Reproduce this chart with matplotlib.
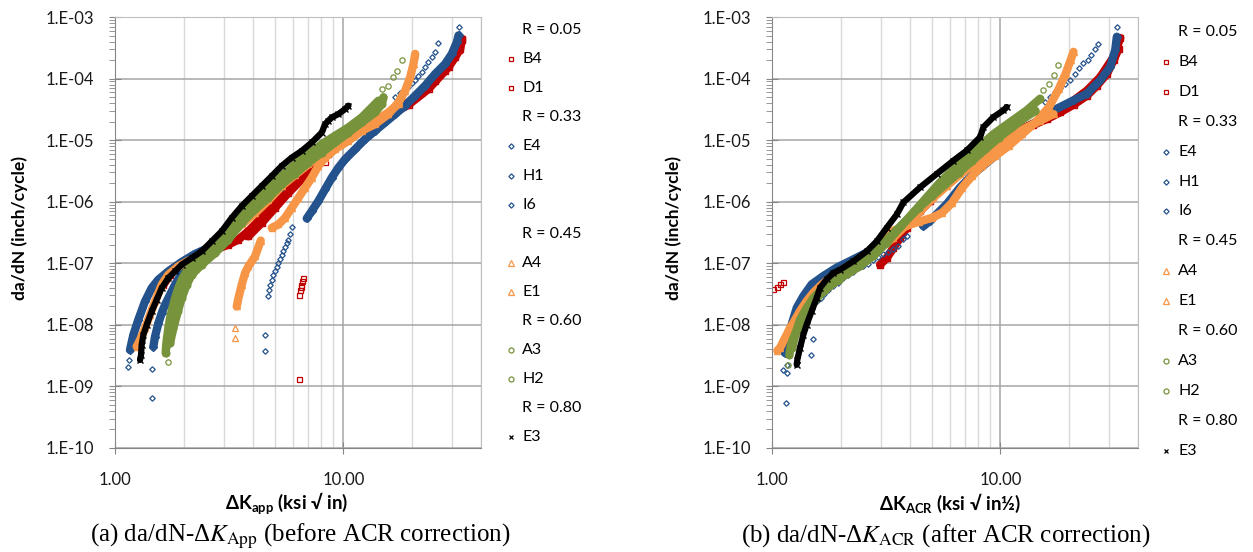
import numpy as np
import matplotlib
matplotlib.use('Agg')
import matplotlib.pyplot as plt
from matplotlib.lines import Line2D
from matplotlib.ticker import FixedLocator, FuncFormatter, LogLocator

nan = np.nan
gap = [nan, nan]

# ---- data: [dK (ksi sqrt(in)), da/dN (inch/cycle)], gap = break in a trace ----
series = ['B4', 'D1', 'E4', 'H1', 'I6', 'A4', 'E1', 'A3', 'H2', 'E3']
ratio_groups = [('R = 0.05', ['B4', 'D1']),
                ('R = 0.33', ['E4', 'H1', 'I6']),
                ('R = 0.45', ['A4', 'E1']),
                ('R = 0.60', ['A3', 'H2']),
                ('R = 0.80', ['E3'])]

# (a) before ACR correction
a_B4 = [[1.628, 4.49e-8], [1.741, 6.53e-8], [1.894, 8.93e-8], [2.095, 1.15e-7], [2.397, 1.38e-7],
        [2.742, 1.67e-7], [3.135, 2.01e-7], [3.469, 2.43e-7], [3.837, 3.32e-7], [4.244, 4.84e-7],
        [4.695, 7.98e-7], [5.193, 1.16e-6], [5.744, 1.92e-6], [6.353, 2.79e-6], [7.026, 4.06e-6],
        [7.771, 5.91e-6], [8.596, 7.59e-6], [9.833, 1.04e-5], [11.25, 1.42e-5], [12.87, 1.82e-5],
        [14.72, 2.34e-5], [16.84, 3.01e-5], [19.27, 4.11e-5], [22.04, 5.99e-5], [25.21, 9.27e-5],
        [28.84, 1.53e-4], [30.84, 2.23e-4], [32.43, 3.05e-4], [32.98, 4.17e-4]]
a_D1 = [[3.837, 2.75e-7], [4.389, 4.55e-7], [5.022, 7.98e-7], [5.744, 1.40e-6], [6.570, 2.31e-6],
        [7.515, 3.82e-6], [8.596, 5.91e-6], [9.833, 8.83e-6], gap,
        [10.52, 1.18e-5], [12.87, 1.71e-5], [15.74, 2.49e-5], [19.27, 3.77e-5], [23.57, 6.79e-5],
        [27.88, 1.35e-4], [31.89, 2.86e-4], [32.98, 4.44e-4]]
a_D1_dots = [[6.417, 1.30e-9], [6.417, 3.08e-8], [6.460, 3.72e-8], [6.500, 4.10e-8], [6.526, 4.49e-8],
             [6.614, 5.09e-8], [6.681, 5.77e-8], [8.312, 4.49e-6]]
a_E4 = [[1.163, 3.91e-9], [1.203, 6.87e-9], [1.265, 1.21e-8], [1.353, 2.40e-8], [1.447, 3.96e-8],
        [1.548, 5.42e-8], [1.712, 7.41e-8], [1.959, 1.05e-7], [2.241, 1.42e-7], [2.564, 1.78e-7]]
a_E4_dots = [[1.144, 2.09e-9], [1.152, 2.69e-9], [2.742, 2.01e-7], [2.933, 2.28e-7], [3.135, 2.69e-7],
             [3.354, 3.32e-7], [3.587, 4.27e-7], [3.837, 5.48e-7], [4.104, 7.04e-7], [4.389, 9.05e-7],
             [4.695, 1.09e-6], [5.022, 1.35e-6], [5.193, 1.49e-6], [5.370, 1.65e-6]]
a_H1 = [[1.472, 4.44e-9], [1.497, 6.45e-9], [1.548, 1.06e-8], [1.601, 1.55e-8], [1.656, 2.12e-8],
        [1.741, 3.08e-8], [1.832, 4.49e-8], [1.926, 6.14e-8], [2.026, 8.39e-8]]
a_H1_dots = [[1.457, 6.37e-10], [1.457, 1.92e-9], [16.84, 4.96e-5], [17.71, 5.77e-5], [18.63, 6.46e-5],
             [19.20, 7.23e-5], [19.98, 8.39e-5], [20.61, 9.39e-5], [21.23, 1.09e-4], [22.11, 1.27e-4],
             [22.80, 1.53e-4], [23.49, 1.85e-4], [24.45, 2.23e-4], [25.21, 2.69e-4], [25.98, 3.77e-4]]
a_I6 = [[6.909, 5.35e-7], [7.266, 7.04e-7], [7.771, 1.03e-6], [8.312, 1.59e-6], [8.890, 2.46e-6],
        [9.508, 3.58e-6], [10.17, 4.90e-6], [11.25, 7.13e-6], [12.44, 1.04e-5], [13.76, 1.42e-5],
        [15.22, 1.94e-5], [16.84, 2.65e-5], [18.63, 3.63e-5], [20.61, 5.28e-5], [22.80, 7.69e-5],
        [25.21, 1.19e-4], [27.88, 1.73e-4], [29.82, 2.52e-4], [31.36, 3.91e-4], [31.89, 5.02e-4]]
a_I6_dots = [[4.540, 3.77e-9], [4.540, 6.87e-9], [4.663, 2.97e-8], [4.726, 3.72e-8], [4.788, 4.49e-8],
             [4.856, 5.42e-8], [4.936, 6.53e-8], [5.022, 7.41e-8], [5.105, 8.61e-8], [5.193, 1.01e-7],
             [5.279, 1.19e-7], [5.370, 1.35e-7], [5.461, 1.57e-7], [5.554, 1.82e-7], [5.648, 2.12e-7],
             [5.744, 2.43e-7], [5.861, 3.01e-7], [5.980, 3.86e-7], [31.89, 6.87e-4]]
a_A4 = [[1.244, 4.44e-9], [1.287, 5.69e-9], [1.353, 8.83e-9], [1.423, 1.46e-8], [1.497, 2.40e-8],
        [1.601, 4.49e-8], [1.712, 6.53e-8], [1.894, 8.93e-8], [2.095, 1.10e-7], [2.397, 1.35e-7],
        [2.742, 1.78e-7], [3.135, 2.75e-7], [3.587, 4.27e-7], [4.104, 6.50e-7], [4.695, 1.05e-6],
        [5.370, 1.80e-6], [6.143, 2.72e-6], [7.026, 4.06e-6], [8.037, 5.91e-6], [9.194, 8.09e-6],
        [10.52, 1.10e-5], [12.03, 1.51e-5], [13.76, 2.07e-5], [15.74, 2.83e-5], [17.42, 3.86e-5]]
a_E1 = [[3.411, 1.99e-8], [3.469, 2.72e-8], [3.587, 4.49e-8], [3.710, 6.95e-8], [3.837, 8.93e-8],
        [4.104, 1.30e-7], [4.345, 2.34e-7], gap,
        [4.856, 3.77e-7], [5.193, 4.27e-7], [5.554, 5.48e-7], [5.940, 7.98e-7], [6.353, 1.16e-6],
        [6.794, 1.69e-6], [7.266, 2.46e-6], [7.771, 3.82e-6], [8.312, 5.21e-6], [9.194, 7.13e-6],
        [10.52, 9.76e-6], [12.03, 1.42e-5], [13.76, 1.82e-5], [15.74, 2.65e-5], [17.42, 4.11e-5],
        [18.63, 6.37e-5], [19.59, 1.05e-4], [20.26, 1.73e-4], [20.61, 2.52e-4]]
a_E1_dots = [[3.354, 6.21e-9], [3.354, 8.83e-9]]
a_A3 = [[1.741, 5.03e-9], [1.801, 8.83e-9], [1.883, 1.65e-8], [1.959, 2.72e-8], [2.060, 4.49e-8],
        [2.167, 6.53e-8], [2.397, 9.51e-8], [2.742, 1.47e-7], [3.135, 2.43e-7], [3.587, 4.55e-7],
        [4.104, 7.50e-7], [4.695, 1.16e-6], [5.370, 1.92e-6], [6.143, 2.86e-6], [7.026, 4.32e-6],
        [8.037, 6.29e-6], [9.194, 9.16e-6], [10.52, 1.33e-5], [12.03, 1.94e-5], [13.76, 2.83e-5],
        [14.72, 3.86e-5], [14.97, 4.96e-5]]
a_H2 = [[1.667, 3.45e-9], [1.673, 4.44e-9], [1.684, 5.69e-9], [1.712, 8.83e-9], [1.741, 1.28e-8],
        [1.783, 1.87e-8], [1.832, 2.72e-8], [1.894, 3.96e-8], [1.959, 5.42e-8], [2.060, 7.41e-8],
        [2.203, 1.01e-7], [2.397, 1.25e-7], [2.651, 1.57e-7], [2.933, 2.28e-7], [3.243, 3.77e-7],
        [3.587, 6.21e-7], [3.968, 9.05e-7], [4.389, 1.32e-6], [4.856, 1.92e-6], [5.370, 2.62e-6],
        [6.143, 4.06e-6], [7.026, 5.91e-6], [8.037, 8.61e-6], [9.194, 1.18e-5], [10.52, 1.61e-5],
        [12.03, 2.34e-5], [13.31, 3.41e-5], [14.23, 4.38e-5]]
a_H2_dots = [[1.701, 2.52e-9], [14.72, 6.79e-5], [15.74, 7.69e-5], [16.45, 1.05e-4], [17.13, 1.35e-4],
             [18.01, 1.97e-4]]
a_E3 = [[1.287, 2.69e-9], [1.300, 3.24e-9], [1.308, 4.72e-9], [1.331, 6.87e-9], [1.376, 1.00e-8],
        [1.447, 1.65e-8], [1.522, 2.56e-8], [1.601, 3.96e-8], [1.712, 5.77e-8], [1.832, 7.41e-8],
        [1.959, 9.51e-8], [2.167, 1.22e-7], [2.397, 1.57e-7], [2.651, 2.28e-7], [2.933, 3.32e-7],
        [3.243, 5.48e-7], [3.587, 8.50e-7], [3.968, 1.24e-6], [4.389, 1.80e-6], [4.856, 2.62e-6],
        [5.370, 3.82e-6], [5.940, 5.21e-6], [6.570, 6.70e-6], [7.266, 9.16e-6], [8.037, 1.33e-5],
        [8.312, 1.82e-5], [8.596, 2.07e-5], [8.890, 2.34e-5], [9.508, 2.65e-5], [10.17, 3.20e-5],
        [10.52, 3.63e-5]]

# (b) after ACR correction
b_B4 = [[2.973, 9.51e-8], [3.178, 1.22e-7], [3.400, 1.78e-7], [3.636, 2.59e-7], [3.889, 3.77e-7],
        [4.159, 5.48e-7], [4.448, 7.04e-7], [4.920, 1.03e-6], [5.443, 1.69e-6], [6.227, 2.79e-6],
        [7.120, 4.32e-6], [8.145, 6.29e-6], [9.318, 8.61e-6], [10.66, 1.10e-5], [12.19, 1.42e-5],
        [13.95, 1.78e-5], [15.96, 2.20e-5], [18.25, 2.83e-5], [20.88, 3.77e-5], [23.89, 5.28e-5],
        [26.42, 7.69e-5], [29.23, 1.19e-4], [31.25, 1.97e-4], [32.88, 3.05e-4]]
b_D1 = [[10.66, 1.18e-5], [13.04, 1.65e-5], [15.96, 2.40e-5], [19.52, 3.63e-5], [23.89, 6.37e-5],
        [27.33, 1.05e-4], [31.25, 2.23e-4], [33.43, 4.55e-4]]
b_D1_dots = [[1.013, 3.77e-8], [1.055, 4.17e-8], [1.084, 4.55e-8], [1.114, 4.97e-8]]
b_E4 = [[1.140, 3.49e-9], [1.167, 5.42e-9], [1.219, 1.01e-8], [1.283, 1.89e-8], [1.372, 2.93e-8],
        [1.492, 4.55e-8], [1.678, 6.21e-8], [1.919, 8.50e-8], [2.272, 1.16e-7], [2.689, 1.59e-7],
        [3.178, 2.46e-7], [3.760, 4.06e-7], [4.244, 6.21e-7]]
b_H1 = [[1.175, 4.17e-9], [1.203, 6.87e-9], [1.244, 1.06e-8], [1.308, 1.76e-8], [1.400, 2.72e-8],
        [1.522, 4.22e-8], [1.712, 6.14e-8]]
b_H1_dots = [[1.152, 5.48e-10], [1.121, 1.87e-9], [1.160, 1.65e-9], [1.160, 2.25e-9],
             [15.69, 4.17e-5], [16.50, 5.03e-5], [17.36, 6.07e-5], [18.25, 7.14e-5], [19.20, 8.28e-5],
             [20.19, 9.64e-5], [21.23, 1.18e-4], [22.18, 1.46e-4], [23.09, 1.76e-4], [24.05, 2.04e-4],
             [25.03, 2.46e-4], [25.89, 2.97e-4], [26.60, 3.63e-4]]
b_I6 = [[4.601, 4.01e-7], [4.920, 4.90e-7], [5.821, 9.16e-7], [6.660, 1.71e-6], [7.617, 2.83e-6],
        [9.318, 5.28e-6], [11.40, 1.12e-5], [13.95, 1.85e-5], [17.07, 3.05e-5], [20.88, 4.43e-5],
        [23.89, 5.69e-5], [27.33, 9.39e-5], [30.22, 1.55e-4], [31.78, 2.90e-4], [32.32, 4.78e-4]]
b_I6_dots = [[1.477, 3.28e-9], [1.517, 5.99e-9], [1.569, 2.43e-8], [1.634, 2.75e-8], [1.689, 3.12e-8],
             [1.765, 3.63e-8], [1.856, 4.27e-8], [1.952, 4.84e-8], [2.053, 5.69e-8], [2.159, 6.45e-8],
             [2.272, 7.31e-8], [2.388, 8.28e-8], [2.512, 9.05e-8], [2.642, 9.89e-8], [2.780, 1.12e-7],
             [2.922, 1.27e-7], [3.073, 1.40e-7], [3.232, 1.55e-7], [3.400, 1.69e-7], [3.575, 1.92e-7],
             [3.760, 2.46e-7], [3.889, 2.79e-7], [32.32, 6.96e-4]]
b_A4 = [[1.055, 3.82e-9], [1.084, 4.22e-9], [1.160, 6.95e-9], [1.199, 8.93e-9], [1.240, 1.08e-8],
        [1.326, 1.67e-8], [1.418, 2.43e-8], [1.517, 3.33e-8], [1.624, 4.27e-8], [1.795, 5.83e-8],
        [1.985, 7.50e-8], [2.272, 1.01e-7], [2.600, 1.30e-7], [2.973, 1.78e-7], [3.400, 2.59e-7],
        [3.889, 4.27e-7], [4.448, 7.04e-7], [5.088, 1.16e-6], [5.821, 1.80e-6], [6.660, 2.79e-6],
        [7.617, 4.06e-6], [8.712, 5.91e-6], [9.97, 8.61e-6], [11.40, 1.25e-5], [13.04, 1.61e-5],
        [14.92, 2.07e-5], [17.07, 2.65e-5]]
b_E1 = [[3.032, 2.75e-7], [3.354, 3.32e-7], [3.837, 4.01e-7], [4.389, 4.72e-7], [5.022, 5.48e-7],
        [5.554, 6.62e-7], [6.143, 9.64e-7], [6.794, 1.69e-6], [7.515, 2.62e-6], [8.312, 3.82e-6],
        [9.508, 5.55e-6], [10.88, 8.09e-6], [12.44, 1.25e-5], [14.23, 1.94e-5], [16.28, 3.41e-5],
        [18.01, 6.79e-5], [19.27, 1.19e-4], [20.26, 1.97e-4], [20.88, 2.72e-4]]
b_A3 = [[1.224, 4.17e-9], [1.265, 6.87e-9], [1.331, 1.06e-8], [1.423, 1.65e-8], [1.548, 2.56e-8],
        [1.712, 3.72e-8], [1.959, 5.42e-8], [2.241, 7.88e-8], [2.564, 1.15e-7], [2.933, 1.78e-7],
        [3.354, 2.93e-7], [3.837, 4.84e-7], [4.389, 7.98e-7], [5.022, 1.24e-6], [5.744, 1.92e-6],
        [6.570, 2.97e-6], [7.515, 4.60e-6], [8.596, 7.13e-6], [9.833, 1.10e-5], [11.25, 1.61e-5],
        [12.87, 2.34e-5], [14.23, 3.01e-5]]
b_H2 = [[1.191, 3.24e-9], [1.207, 4.44e-9], [1.240, 6.06e-9], [1.283, 8.28e-9], [1.326, 1.21e-8],
        [1.418, 1.89e-8], [1.517, 2.75e-8], [1.678, 4.01e-8], [1.856, 5.15e-8], [2.124, 6.62e-8],
        [2.430, 9.05e-8], [2.780, 1.32e-7], [3.178, 2.17e-7], [3.636, 3.82e-7], [4.159, 6.70e-7],
        [4.757, 1.18e-6], [5.443, 2.07e-6], [6.227, 3.37e-6], [7.120, 5.21e-6], [8.145, 8.09e-6],
        [9.318, 1.25e-5], [11.03, 1.96e-5], [13.04, 3.05e-5], [14.92, 4.72e-5]]
b_H2_dots = [[1.179, 2.20e-9], [15.43, 6.46e-5], [16.23, 8.28e-5], [17.07, 1.13e-4], [17.95, 1.65e-4]]
b_E3 = [[1.283, 2.25e-9], [1.291, 2.72e-9], [1.326, 4.22e-9], [1.372, 6.95e-9], [1.418, 1.01e-8],
        [1.492, 1.67e-8], [1.569, 2.75e-8], [1.624, 4.01e-8], [1.735, 5.48e-8], [1.856, 6.95e-8],
        [1.985, 7.88e-8], [2.272, 1.08e-7], [2.600, 1.57e-7], [2.875, 2.28e-7], [3.178, 3.77e-7],
        [3.516, 6.21e-7], [3.760, 9.75e-7], [4.448, 1.71e-6], [5.262, 2.83e-6], [6.227, 4.66e-6],
        [7.120, 6.79e-6], [8.145, 1.12e-5], [8.423, 1.63e-5], [9.318, 2.37e-5], [10.31, 3.05e-5],
        [10.66, 3.45e-5]]

bands_a = {'B4': a_B4, 'D1': a_D1, 'E4': a_E4, 'H1': a_H1, 'I6': a_I6,
           'A4': a_A4, 'E1': a_E1, 'A3': a_A3, 'H2': a_H2, 'E3': a_E3}
dots_a = {'D1': a_D1_dots, 'E4': a_E4_dots, 'H1': a_H1_dots, 'I6': a_I6_dots,
          'E1': a_E1_dots, 'H2': a_H2_dots}
bands_b = {'B4': b_B4, 'D1': b_D1, 'E4': b_E4, 'H1': b_H1, 'I6': b_I6,
           'A4': b_A4, 'E1': b_E1, 'A3': b_A3, 'H2': b_H2, 'E3': b_E3}
dots_b = {'D1': b_D1_dots, 'H1': b_H1_dots, 'I6': b_I6_dots, 'H2': b_H2_dots}

red, blue, orange, green = '#C00000', '#24528C', '#F79646', '#77933C'
style = {'B4': (red, 's', 3.6), 'D1': (red, 's', 3.6),
         'E4': (blue, 'D', 2.8), 'H1': (blue, 'D', 2.8), 'I6': (blue, 'D', 2.8),
         'A4': (orange, '^', 3.8), 'E1': (orange, '^', 3.8),
         'A3': (green, 'o', 3.8), 'H2': (green, 'o', 3.8),
         'E3': ('black', 'x', 3.6)}
band_width = {'E3': 4.5}

sans = ['Lato', 'DejaVu Sans']
serif = ['Liberation Serif', 'DejaVu Serif']
plt.rcParams['font.family'] = sans
plt.rcParams['mathtext.fontset'] = 'custom'
plt.rcParams['mathtext.rm'] = 'Lato'
plt.rcParams['mathtext.bf'] = 'Lato:bold'
plt.rcParams['mathtext.it'] = 'Lato:italic'

W, H = 1253, 552
fig = plt.figure(figsize=(W / 100, H / 100), dpi=100)


def fx(x):
    return x / W


def fy(y):
    return 1 - y / H


def draw_panel(left, bands, dots, ylab_x, xlab_x, xlab, cap_x, caption, leg_mx, leg_tx, leg_y0, leg_dy):
    top, width, height = 17, 366, 431
    ax = fig.add_axes([fx(left), fy(top + height), width / W, height / H])
    ax.set_xscale('log')
    ax.set_yscale('log')

    for name in series:
        c, m, ms = style[name]
        if name in bands:
            k, r = np.array(bands[name], float).T
            ax.plot(k, r, '-', color=c, lw=band_width.get(name, 6.0), solid_capstyle='round', zorder=2)
            ax.plot(k, r, ls='none', marker=m, ms=ms + 1.0, mfc='none', mec=c, mew=1.0, zorder=2)
        if name in dots:
            k, r = np.array(dots[name], float).T
            ax.plot(k, r, ls='none', marker=m, ms=ms, mfc='none', mec=c, mew=0.9, zorder=2)

    ax.set_xlim(1, 40)
    ax.set_ylim(1e-10, 1e-3)
    ax.xaxis.set_major_locator(FixedLocator([1, 10, 100]))
    ax.xaxis.set_minor_locator(LogLocator(base=10, subs=np.arange(2, 10), numticks=20))
    ax.xaxis.set_major_formatter(FuncFormatter(lambda v, p: '%.2f' % v))
    ax.xaxis.set_minor_formatter(FuncFormatter(lambda v, p: ''))
    ax.yaxis.set_major_locator(LogLocator(base=10, numticks=20))
    ax.yaxis.set_minor_locator(LogLocator(base=10, subs=np.arange(2, 10), numticks=100))
    ax.yaxis.set_major_formatter(FuncFormatter(lambda v, p: '1.E-%02d' % round(-np.log10(v))))
    ax.yaxis.set_minor_formatter(FuncFormatter(lambda v, p: ''))

    ax.set_axisbelow(True)
    ax.grid(True, which='major', color='#A6A6A6', lw=1.1)
    ax.grid(True, which='minor', axis='x', color='#D9D9D9', lw=1.0)
    ax.tick_params(which='major', direction='inout', length=8, color='#868686',
                   labelsize=12, labelcolor='#1A1A1A')
    ax.tick_params(axis='y', which='major', pad=11)
    ax.tick_params(axis='x', which='major', pad=13)
    ax.tick_params(axis='y', which='minor', direction='out', length=4, color='#868686')
    ax.tick_params(axis='x', which='minor', length=0)
    for s in ['left', 'bottom']:
        ax.spines[s].set_color('#868686')
    for s in ['top', 'right']:
        ax.spines[s].set_color('#BFBFBF')

    fig.text(fx(ylab_x), fy(top + height / 2 - 4), 'da/dN (inch/cycle)', rotation=90,
             fontsize=12.5, fontweight='bold', ha='center', va='center')
    fig.text(fx(xlab_x), fy(503), xlab, fontsize=13.5, fontweight='bold', ha='center', va='center')
    fig.text(fx(cap_x), fy(536), caption, family=serif, math_fontfamily='stix',
             fontsize=18, ha='center', va='center')

    row = 0
    for title, names in ratio_groups:
        fig.text(fx(leg_tx), fy(leg_y0 + row * leg_dy), title, fontsize=11.5, va='center')
        row += 1
        for name in names:
            c, m, ms = style[name]
            y = fy(leg_y0 + row * leg_dy)
            fig.add_artist(Line2D([fx(leg_mx)], [y], transform=fig.transFigure, ls='none',
                                  marker=m, ms=ms * 0.95, mfc='none', mec=c, mew=0.9))
            fig.text(fx(leg_tx), y, name, fontsize=11.5, va='center')
            row += 1
    return ax


draw_panel(115, bands_a, dots_a, 20, 287, r'ΔK$_{\mathbf{app}}$ (ksi √ in)', 300,
           r'(a) da/dN-Δ$K_{\mathrm{App}}$ (before ACR correction)', 511, 522, 30, 29.1)
draw_panel(772, bands_b, dots_b, 674, 950, r'ΔK$_{\mathbf{ACR}}$ (ksi √ in½)', 946,
           r'(b) da/dN-Δ$K_{\mathrm{ACR}}$ (after ACR correction)', 1166, 1178, 32, 29.9)

fig.savefig('out.png', dpi=100)
